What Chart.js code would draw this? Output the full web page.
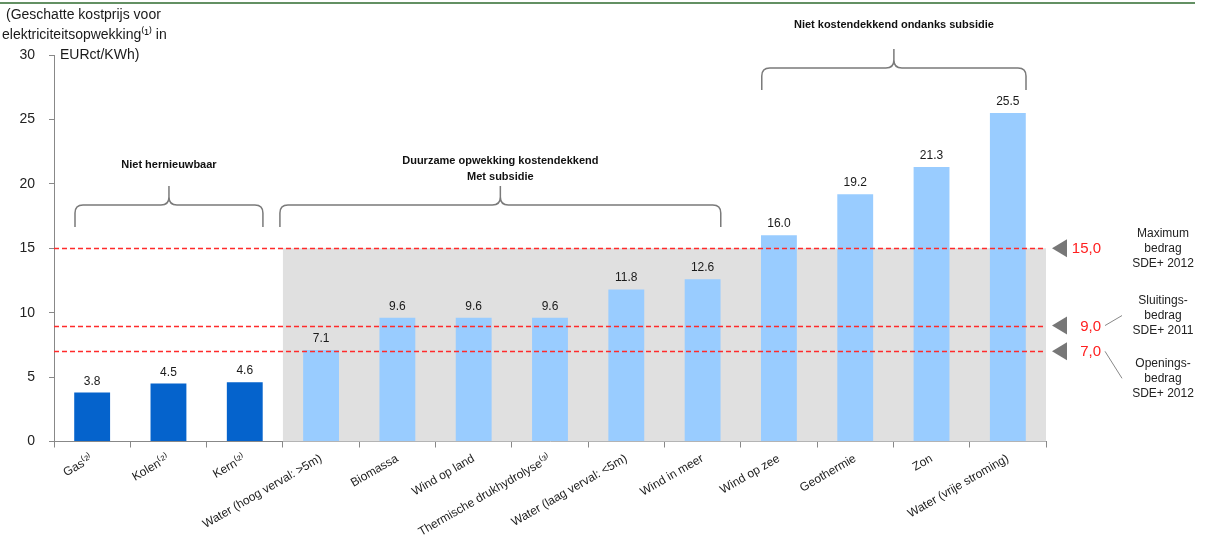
<!DOCTYPE html>
<html>
<head>
<meta charset="utf-8">
<script src="https://cdn.jsdelivr.net/npm/chart.js@4.4.1/dist/chart.umd.min.js"></script>
<style>
  body { margin: 0; background: #fff; }
  #wrap { width: 1207px; height: 540px; position: relative; }
</style>
</head>
<body>
<div id="wrap"><canvas id="kostChart" width="1207" height="540"></canvas></div>
<script>
const categories = ['Gas⁽²⁾', 'Kolen⁽²⁾', 'Kern⁽²⁾', 'Water (hoog verval: >5m)', 'Biomassa', 'Wind op land',
    'Thermische drukhydrolyse⁽³⁾', 'Water (laag verval: <5m)', 'Wind in meer', 'Wind op zee', 'Geothermie', 'Zon',
    'Water (vrije stroming)'];
const costs = [3.8, 4.5, 4.6, 7.1, 9.6, 9.6, 9.6, 11.8, 12.6, 16.0, 19.2, 21.3, 25.5];
const renewable = [false, false, false, true, true, true, true, true, true, true, true, true, true];

const groupNames = [['Niet hernieuwbaar'], ['Duurzame opwekking kostendekkend', 'Met subsidie'], ['Niet kostendekkend ondanks subsidie']];
const groupFirst = [0, 3, 9];
const groupLast = [2, 8, 12];

const refValues = [15, 9, 7];
const refLabels = ['15,0', '9,0', '7,0'];
const refNotes = [['Maximum', 'bedrag', 'SDE+ 2012'], ['Sluitings-', 'bedrag', 'SDE+ 2011'], ['Openings-', 'bedrag', 'SDE+ 2012']];
const subsidyFrom = 3;
const subsidyMax = 15;

const yTitle = ['(Geschatte kostprijs voor', 'elektriciteitsopwekking⁽¹⁾ in', 'EURct/KWh)'];

const FONT = '"Liberation Sans", Arial, sans-serif';
const ctx = document.getElementById('kostChart').getContext('2d');

function drawBrace(c, x0, x1, yH, yEnd, yPeak) {
    const cx = (x0 + x1) / 2, r = 8;
    c.beginPath();
    c.moveTo(x0, yEnd);
    c.lineTo(x0, yH + r);
    c.quadraticCurveTo(x0, yH, x0 + r, yH);
    c.lineTo(cx - r, yH);
    c.quadraticCurveTo(cx, yH, cx, yH - r);
    c.lineTo(cx, yPeak);
    c.moveTo(cx, yH - r);
    c.quadraticCurveTo(cx, yH, cx + r, yH);
    c.lineTo(x1 - r, yH);
    c.quadraticCurveTo(x1, yH, x1, yH + r);
    c.lineTo(x1, yEnd);
    c.stroke();
}

const decorations = {
    id: 'decorations',
    beforeDatasetsDraw(chart) {
        const c = chart.ctx, x = chart.scales.x, y = chart.scales.y;
        const half = (x.getPixelForValue(1) - x.getPixelForValue(0)) / 2;
        c.save();
        c.fillStyle = '#e0e0e0';
        const left = x.getPixelForValue(subsidyFrom) - half;
        c.fillRect(left, y.getPixelForValue(subsidyMax), chart.chartArea.right - left,
            y.getPixelForValue(0) - y.getPixelForValue(subsidyMax));
        c.restore();
    },
    afterDatasetsDraw(chart) {
        const c = chart.ctx, x = chart.scales.x, y = chart.scales.y, area = chart.chartArea;
        const meta = chart.getDatasetMeta(0);
        c.save();

        // value labels
        c.fillStyle = '#1a1a1a';
        c.font = '12px ' + FONT;
        c.textAlign = 'center';
        c.textBaseline = 'alphabetic';
        meta.data.forEach((bar, i) => {
            c.fillText(costs[i].toFixed(1), bar.x, bar.y - 8);
        });

        // red reference lines
        c.strokeStyle = '#ff2b2b';
        c.lineWidth = 1.3;
        c.setLineDash([5, 3]);
        refValues.forEach(v => {
            const py = Math.round(y.getPixelForValue(v)) + 0.5;
            c.beginPath();
            c.moveTo(area.left, py);
            c.lineTo(area.right, py);
            c.stroke();
        });
        c.setLineDash([]);

        // triangles, values and notes on the right
        refValues.forEach((v, i) => {
            const py = y.getPixelForValue(v);
            c.fillStyle = '#777';
            c.beginPath();
            c.moveTo(area.right + 6, py);
            c.lineTo(area.right + 21, py - 9);
            c.lineTo(area.right + 21, py + 9);
            c.closePath();
            c.fill();
            c.fillStyle = '#ff2020';
            c.font = '15px ' + FONT;
            c.textAlign = 'right';
            c.textBaseline = 'middle';
            c.fillText(refLabels[i], area.right + 55, py + 1);
        });
        const noteX = area.right + 117;
        const noteCenter = [y.getPixelForValue(15), y.getPixelForValue(9) - 10, y.getPixelForValue(7) + 27];
        c.fillStyle = '#222';
        c.font = '12px ' + FONT;
        c.textAlign = 'center';
        refNotes.forEach((lines, i) => {
            lines.forEach((t, j) => c.fillText(t, noteX, noteCenter[i] + (j - 1) * 15));
        });
        c.strokeStyle = '#888';
        c.lineWidth = 1;
        c.beginPath();
        c.moveTo(area.right + 59, y.getPixelForValue(9));
        c.lineTo(area.right + 76, y.getPixelForValue(9) - 10);
        c.moveTo(area.right + 59, y.getPixelForValue(7));
        c.lineTo(area.right + 76, y.getPixelForValue(7) + 27);
        c.stroke();

        // group braces
        const half = (x.getPixelForValue(1) - x.getPixelForValue(0)) / 2;
        c.strokeStyle = '#7a7a7a';
        c.lineWidth = 1.5;
        const braceTop = [205, 205, 68];
        const textY = [[165], [161, 177], [25]];
        groupNames.forEach((names, g) => {
            let x0 = x.getPixelForValue(groupFirst[g]) - half + 21;
            const x1 = x.getPixelForValue(groupLast[g]) + half - 20;
            if (g === 1) x0 = x.getPixelForValue(groupFirst[g]) - half - 3;
            const yH = braceTop[g];
            drawBrace(c, x0, x1, yH, yH + 22, yH - 19);
            c.fillStyle = '#111';
            c.font = 'bold 11px ' + FONT;
            c.textAlign = 'center';
            c.textBaseline = 'middle';
            names.forEach((t, j) => c.fillText(t, (x0 + x1) / 2, textY[g][j]));
        });

        // y-axis title
        c.fillStyle = '#1a1a1a';
        c.font = '14px ' + FONT;
        c.textAlign = 'left';
        c.textBaseline = 'middle';
        c.fillText(yTitle[0], 6, 15);
        c.fillText(yTitle[1], 2, 35);
        c.fillText(yTitle[2], 60, 55);

        // green rule at the top
        c.strokeStyle = '#2f6b2f';
        c.lineWidth = 1.5;
        c.beginPath();
        c.moveTo(0, 3);
        c.lineTo(1195, 3);
        c.stroke();
        c.restore();
    }
};

new Chart(ctx, {
    type: 'bar',
    data: {
        labels: categories,
        datasets: [{
            label: 'Kostprijs',
            data: costs,
            backgroundColor: renewable.map(r => r ? '#99ccff' : '#0563cc'),
            barPercentage: 0.47,
            categoryPercentage: 1.0
        }]
    },
    options: {
        responsive: false,
        animation: false,
        layout: { padding: { top: 55, right: 161, left: 0, bottom: 0 } },
        plugins: {
            legend: { display: false },
            tooltip: { enabled: false }
        },
        scales: {
            x: {
                grid: { drawOnChartArea: false, drawTicks: true, tickLength: 6, color: '#888', offset: true },
                border: { color: '#888' },
                ticks: {
                    minRotation: 30, maxRotation: 30, autoSkip: false, padding: 4,
                    color: '#222', font: { family: FONT, size: 12 }
                },
                afterFit: s => { s.height = 98.5; }
            },
            y: {
                min: 0, max: 30,
                grid: { drawOnChartArea: false, tickLength: 5, color: '#888' },
                border: { color: '#888' },
                ticks: { stepSize: 5, padding: 14, color: '#222', font: { family: FONT, size: 14 } },
                afterFit: s => { s.width = 54; }
            }
        }
    },
    plugins: [decorations]
});
</script>
</body>
</html>
